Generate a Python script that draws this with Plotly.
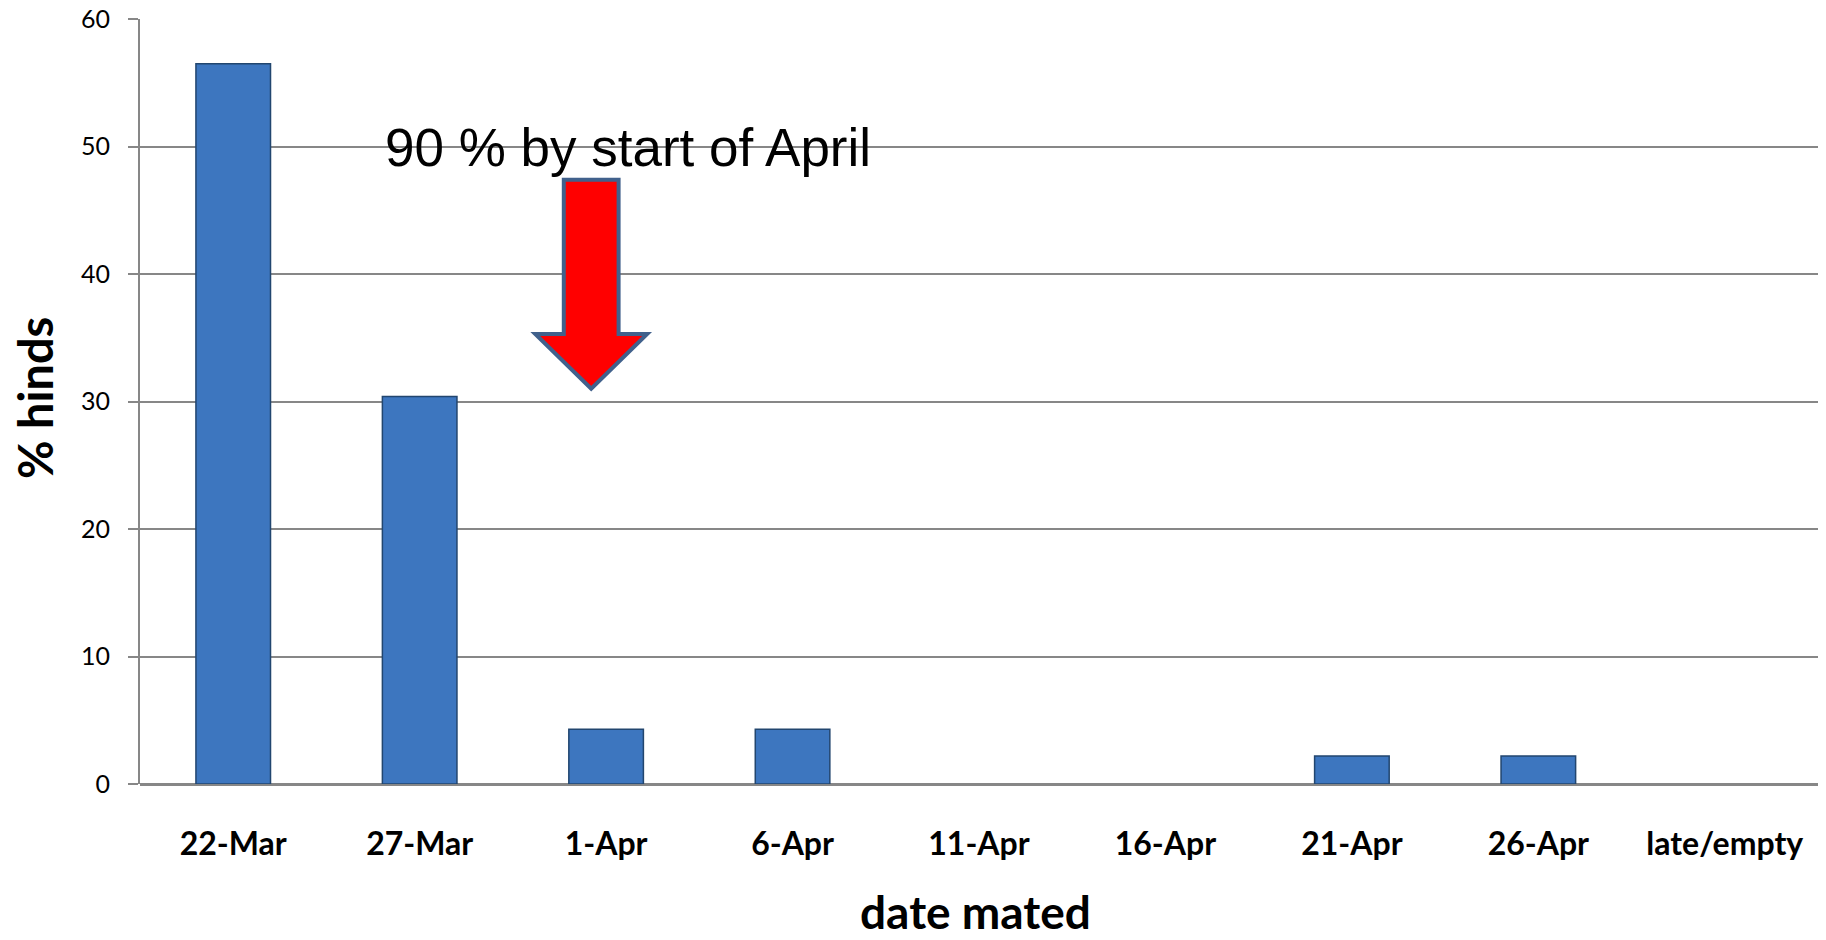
import plotly.graph_objects as go

categories = ["22-Mar", "27-Mar", "1-Apr", "6-Apr", "11-Apr", "16-Apr", "21-Apr", "26-Apr", "late/empty"]
pct_hinds = [56.5, 30.4, 4.3, 4.3, 0, 0, 2.2, 2.2, 0]
y_ticks = [0, 10, 20, 30, 40, 50, 60]

W, H = 1826, 940
L, R, T, B = 140, 8, 19, 156

fig = go.Figure()
fig.add_trace(go.Bar(
    x=categories, y=pct_hinds,
    marker=dict(color="#3d76bf",
                line=dict(color="#22466f", width=[1.5 if v > 0 else 0 for v in pct_hinds])),
    width=0.4, showlegend=False,
))

# block arrow (annotation shape) in axis coordinates
xc, shw, hhw, ytop, yhead, ytip = 1.92, 0.147, 0.30, 47.4, 35.3, 31.0
path = (f"M {xc-shw},{ytop} L {xc+shw},{ytop} L {xc+shw},{yhead} L {xc+hhw},{yhead} "
        f"L {xc},{ytip} L {xc-hhw},{yhead} L {xc-shw},{yhead} Z")
fig.add_shape(type="path", path=path, xref="x", yref="y",
              fillcolor="#ff0000", line=dict(color="#41618c", width=4), layer="above")

fig.add_annotation(text="90 % by start of April", x=2.12, y=49.9, xref="x", yref="y",
                   showarrow=False, xanchor="center", yanchor="middle",
                   font=dict(family="Liberation Sans, Arial", size=53, color="black"))

fig.add_annotation(text="% hinds", x=(35 - L) / (W - L - R), y=(H - B - 398) / (H - T - B),
                   xref="paper", yref="paper", showarrow=False, textangle=-90,
                   xanchor="center", yanchor="middle",
                   font=dict(family="Lato", size=47, color="black", weight="bold"))
fig.add_annotation(text="date mated", x=(975 - L) / (W - L - R), y=(H - B - 911) / (H - T - B),
                   xref="paper", yref="paper", showarrow=False,
                   xanchor="center", yanchor="middle",
                   font=dict(family="Lato", size=46, color="black", weight="bold"))

fig.update_layout(
    width=W, height=H,
    margin=dict(l=L, r=R, t=T, b=B, autoexpand=False),
    paper_bgcolor="white", plot_bgcolor="white",
    bargap=0.6,
    xaxis=dict(
        type="category", showgrid=False, showline=False, ticks="",
        tickfont=dict(family="Lato", size=32, color="black", weight="bold"),
        ticklabelstandoff=38, range=[-0.5, 8.5], zeroline=False,
    ),
    yaxis=dict(
        range=[0, 60], tickvals=y_ticks, showgrid=True, gridcolor="#878787", gridwidth=2,
        showline=True, linecolor="#878787", linewidth=2, ticks="outside", ticklen=10,
        tickcolor="#878787", tickwidth=2, zeroline=True, zerolinecolor="#878787", zerolinewidth=3,
        tickfont=dict(family="Lato", size=25, color="black"), ticklabelstandoff=13,
    ),
)

fig.write_html("out.html", config={"displayModeBar": False},
               post_script="document.body.style.margin='0';document.body.style.overflow='hidden';")
